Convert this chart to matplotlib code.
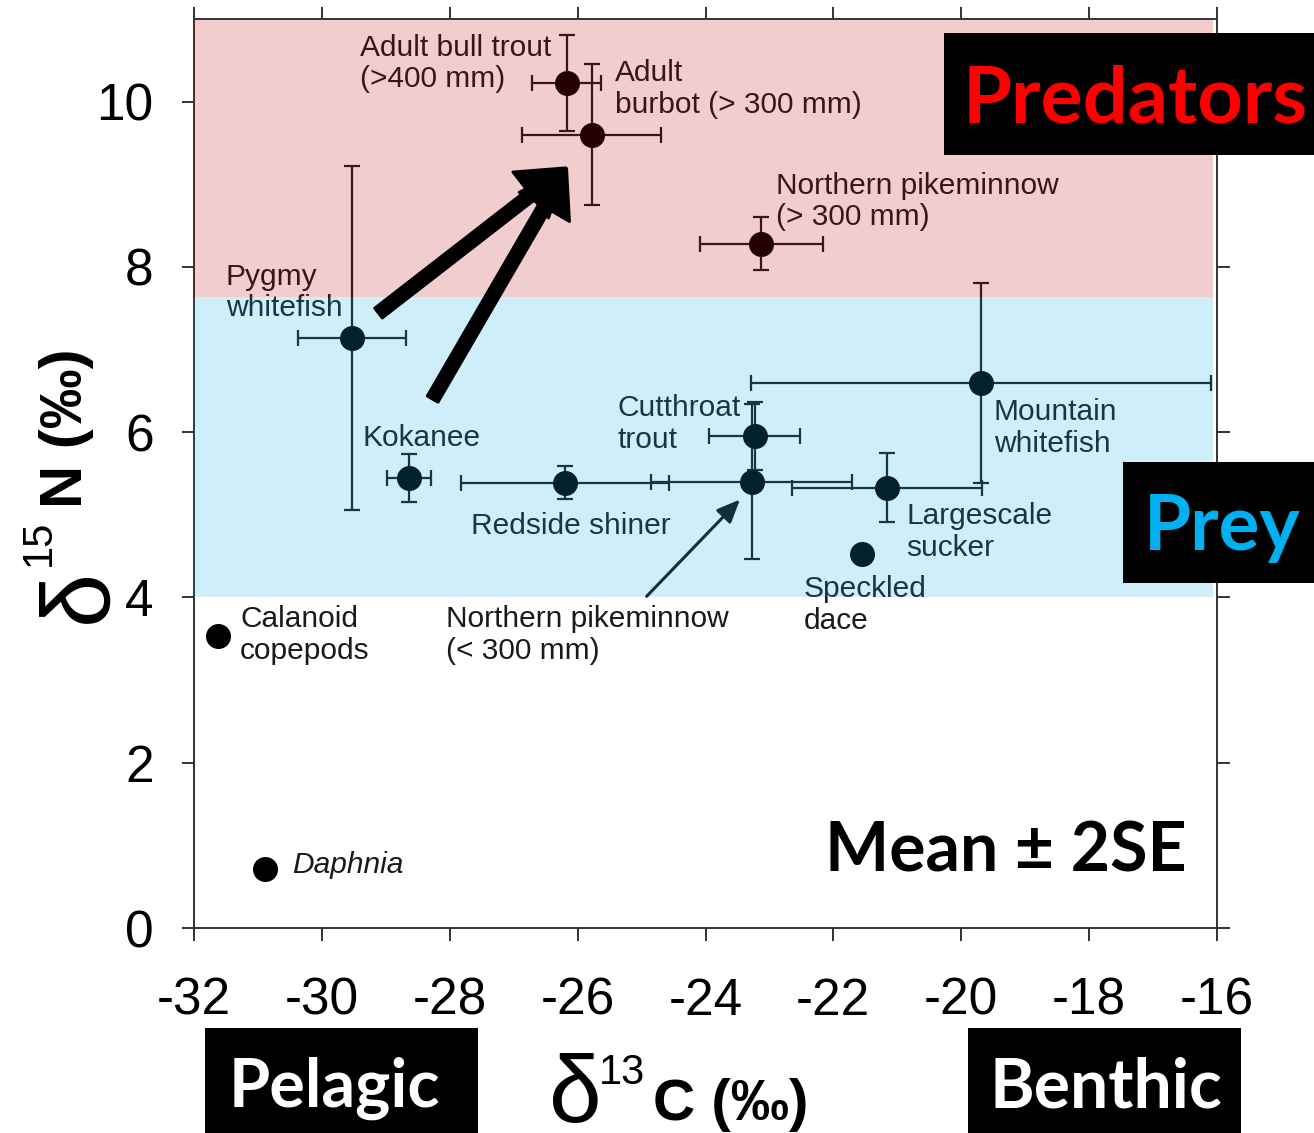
import numpy as np
import matplotlib
matplotlib.use('Agg')
import matplotlib.pyplot as plt
from matplotlib.patches import Rectangle, FancyArrowPatch

plt.rcParams['font.family'] = ['Liberation Sans', 'DejaVu Sans']
plt.rcParams['axes.unicode_minus'] = False

# stable isotope means (d13C, d15N) and 2SE
species = ['Adult bull trout', 'Adult burbot', 'Northern pikeminnow (> 300 mm)',
           'Pygmy whitefish', 'Kokanee', 'Redside shiner', 'Cutthroat trout',
           'Northern pikeminnow (< 300 mm)', 'Mountain whitefish', 'Largescale sucker',
           'Speckled dace', 'Calanoid copepods', 'Daphnia']
d13c = np.array([-26.17, -25.78, -23.13, -29.53, -28.64, -26.20, -23.23,
                 -23.28, -19.69, -21.16, -21.55, -31.62, -30.89])
d15n = np.array([10.23, 9.60, 8.28, 7.14, 5.45, 5.39, 5.95,
                 5.40, 6.60, 5.33, 4.52, 3.53, 0.71])
c_err = np.array([0.54, 1.09, 0.96, 0.85, 0.34, 1.63, 0.71,
                  1.57, 3.60, 1.48, 0.0, 0.0, 0.0])
n_err = np.array([0.58, 0.855, 0.32, 2.08, 0.29, 0.20, 0.41,
                  0.94, 1.21, 0.42, 0.0, 0.0, 0.0])

# label text and where it sits (left edge, centre of block)
labels = ['Adult bull trout\n(>400 mm)', 'Adult\nburbot (> 300 mm)',
          'Northern pikeminnow\n(> 300 mm)', 'Pygmy\nwhitefish', 'Kokanee',
          'Redside shiner', 'Cutthroat\ntrout', 'Northern pikeminnow\n(< 300 mm)',
          'Mountain\nwhitefish', 'Largescale\nsucker', 'Speckled\ndace',
          'Calanoid\ncopepods', 'Daphnia']
label_x = [-29.40, -25.42, -22.90, -31.50, -29.36, -27.67, -25.38,
           -28.06, -19.49, -20.86, -22.46, -31.28, -30.47]
label_y = [10.46, 10.15, 8.79, 7.69, 5.93, 4.86, 6.10,
           3.55, 6.05, 4.79, 3.91, 3.55, 0.76]

prey_band = (4.0, 7.63)
pred_band = (7.63, 11.0)

W, H = 1314, 1133
fig = plt.figure(figsize=(W / 100, H / 100), dpi=100)
ax = fig.add_axes([194 / W, 1 - 928 / H, (1217 - 194) / W, (928 - 19) / H])


def fx(px):
    return px / W


def fy(py):
    return 1 - py / H


has_err = c_err > 0
ax.errorbar(d13c[has_err], d15n[has_err], xerr=c_err[has_err], yerr=n_err[has_err],
            fmt='o', color='black', ms=17, ecolor='#1a1a1a', elinewidth=1.6,
            capsize=5.5, capthick=1.6, zorder=3)
ax.plot(d13c[~has_err], d15n[~has_err], 'o', color='black', ms=17, zorder=3)

for i, lab in enumerate(labels):
    style = 'italic' if lab == 'Daphnia' else 'normal'
    ax.text(label_x[i], label_y[i], lab, fontsize=21.5, color='#1a1a1a', ha='left',
            va='center', linespacing=1.17, style=style, zorder=4)

# thin arrow to the small pikeminnow (part of the original figure)
ax.annotate('', xy=(-23.43, 5.21), xytext=(-24.95, 3.99),
            arrowprops=dict(arrowstyle='-|>,head_length=0.7,head_width=0.3',
                            lw=2.2, color='#111111', mutation_scale=20), zorder=5)

# coloured overlays
ax.add_patch(Rectangle((-32, pred_band[0]), 15.94, pred_band[1] - pred_band[0],
                       facecolor='#BE0505', alpha=0.2, lw=0, zorder=6))
ax.add_patch(Rectangle((-32, prey_band[0]), 15.94, prey_band[1] - prey_band[0],
                       facecolor='#0AABE6', alpha=0.2, lw=0, zorder=6))

# big arrows from the prey fish to the predators, drawn on top
for start in [(-29.15, 7.42), (-28.29, 6.37)]:
    arr = FancyArrowPatch(start, (-26.15, 9.22), mutation_scale=1,
                          arrowstyle='simple,head_width=42,head_length=32,tail_width=9',
                          facecolor='black', edgecolor='black', lw=2,
                          joinstyle='round', capstyle='round', zorder=7)
    ax.add_patch(arr)

ax.set_xlim(-32, -16)
ax.set_ylim(0, 11)
ax.set_xticks(np.arange(-32, -15, 2))
ax.set_yticks(np.arange(0, 11, 2))
for s in ax.spines.values():
    s.set_linewidth(1.4)
    s.set_color('#333333')
ax.tick_params(direction='out', length=9, width=1.4, color='#333333',
               labelsize=37, top=True, right=True)
ax.tick_params(axis='x', pad=26)
ax.tick_params(axis='y', pad=20)

# axis titles (mathtext delta keeps a tight box)
fig.text(fx(548), fy(1122), r'$\mathregular{\delta}$', fontsize=68, ha='left', va='baseline')
fig.text(fx(599), fy(1084), '13', fontsize=30, ha='left', va='baseline')
fig.text(fx(653), fy(1120), 'C (‰)', fontsize=42, weight='bold', ha='left', va='baseline')

fig.text(fx(110), fy(628), r'$\mathregular{\delta}$', fontsize=70, rotation=90,
         rotation_mode='anchor', ha='left', va='baseline')
fig.text(fx(50), fy(566), '15', fontsize=30, rotation=90, rotation_mode='anchor',
         ha='left', va='baseline')
fig.text(fx(82), fy(508), 'N (‰)', fontsize=43, weight='bold', rotation=90,
         rotation_mode='anchor', ha='left', va='baseline')

# black boxes
boxes = [
    (944, 33, 1314, 155, 'Predators', '#FF0000', 1135, 122, 57),
    (1123, 462, 1314, 583, 'Prey', '#00B0F0', 1222, 550, 55),
    (205, 1028, 478, 1133, 'Pelagic', 'white', 334, 1107, 48),
    (968, 1028, 1241, 1133, 'Benthic', 'white', 1106, 1107, 49),
]
for x0, y0, x1, y1, txt, col, tx, ty, fs in boxes:
    fig.add_artist(Rectangle((fx(x0), fy(y1)), (x1 - x0) / W, (y1 - y0) / H,
                             transform=fig.transFigure, facecolor='black', lw=0, zorder=10))
    fig.text(fx(tx), fy(ty), txt, color=col, fontsize=fs, family='Lato', weight='bold',
             ha='center', va='baseline', zorder=11)

fig.text(fx(1006), fy(872), 'Mean ± 2SE', fontsize=49, family='Lato', weight='bold',
         ha='center', va='baseline', zorder=11)

fig.savefig('out.png', dpi=100)
